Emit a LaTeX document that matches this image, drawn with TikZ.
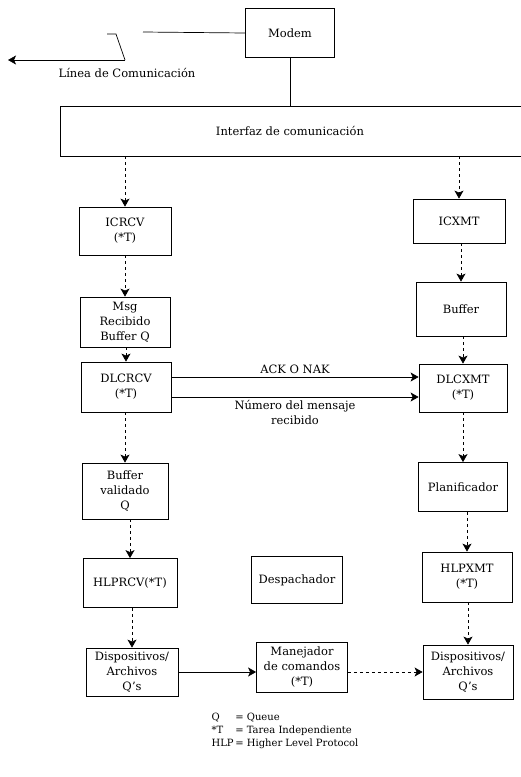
\documentclass[tikz,border=0pt]{standalone}
\usepackage{fontspec}
\setmainfont{DejaVu Serif}
\usepackage{tikz}
\usetikzlibrary{arrows.meta}
\tikzset{
  tareabox/.style={draw=black,line width=0.8pt,align=center,inner sep=2pt},
  punta/.tip={Stealth[length=8pt,width=9pt,inset=2pt,fill=black,line width=0.6pt,line join=miter]},
  flechav/.style={-punta,dashed,line width=0.5pt},
  flechah/.style={-punta,line width=0.7pt},
  leyenda/.style={align=left,font=\fontsize{10}{13}\selectfont},
  every picture/.style={font=\fontsize{11.5}{15}\selectfont}
}

\begin{document}
\begin{tikzpicture}[x=1pt,y=-1pt]
  \useasboundingbox (0,0) rectangle (521,777);
  % modem y linea
  \node[tareabox,minimum width=89pt,minimum height=49pt] (modem) at (290,33) {Modem};
  \coordinate (lin1) at (143,32);
  \coordinate (rayo) at (125,60);
  \coordinate (linfin) at (8,60);
  \draw[line width=0.7pt] (modem.west) -- (lin1);
  \draw[line width=0.7pt] (107,34) -- (116,34) -- (rayo);
  \draw[flechah] (rayo) -- (linfin);
  \node (linea) at (127,73) {Línea de Comunicación};
  % interfaz
  \draw[line width=0.8pt] (521,106) -- (60,106) -- (60,156) -- (521,156);
  \node (interfaz) at (290,131) {Interfaz de comunicación};
  \coordinate (ifsup) at (290,106);
  \coordinate (ifrcv) at (125,156);
  \coordinate (ifxmt) at (459,156);
  \draw[line width=0.8pt] (modem.south) -- (ifsup);

  % columna de recepcion
  \node[tareabox,minimum width=92pt,minimum height=48pt] (icrcv) at (125,231) {ICRCV\\(*T)};
  \node[tareabox,minimum width=90pt,minimum height=50pt] (msgrec) at (125,322) {Msg\\Recibido\\Buffer Q};
  \node[tareabox,minimum width=90pt,minimum height=50pt] (dlcrcv) at (126,387) {DLCRCV\\(*T)};
  \node[tareabox,minimum width=86pt,minimum height=56pt] (bufval) at (125,491) {Buffer\\validado\\Q};
  \node[tareabox,minimum width=94pt,minimum height=49pt] (hlprcv) at (130,583) {HLPRCV(*T)};
  \node[tareabox,minimum width=92pt,minimum height=48pt] (displ) at (132,672) {Dispositivos/\\Archivos\\Q's};

  % columna de transmision
  \node[tareabox,minimum width=92pt,minimum height=44pt] (icxmt) at (459,221) {ICXMT};
  \node[tareabox,minimum width=90pt,minimum height=54pt] (buffer) at (461,309) {Buffer};
  \node[tareabox,minimum width=88pt,minimum height=48pt] (dlcxmt) at (463,388) {DLCXMT\\(*T)};
  \node[tareabox,minimum width=89pt,minimum height=49pt] (planif) at (463,487) {Planificador};
  \node[tareabox,minimum width=90pt,minimum height=50pt] (hlpxmt) at (467,577) {HLPXMT\\(*T)};
  \node[tareabox,minimum width=90pt,minimum height=54pt] (dispr) at (468,672) {Dispositivos/\\Archivos\\Q's};

  % centro
  \node[tareabox,minimum width=91pt,minimum height=47pt] (desp) at (297,580) {Despachador};
  \node[tareabox,minimum width=91pt,minimum height=50pt] (manej) at (302,667) {Manejador\\de comandos\\(*T)};

  \draw[flechav] (ifrcv) -- (icrcv.north);
  \draw[flechav] (ifxmt) -- (icxmt.north);
  \foreach \a/\b in {icrcv/msgrec,msgrec/dlcrcv,dlcrcv/bufval,bufval/hlprcv,hlprcv/displ,
                     icxmt/buffer,buffer/dlcxmt,dlcxmt/planif,planif/hlpxmt,hlpxmt/dispr}
    \draw[flechav] (\b.north |- \a.south) -- (\b.north);

  \draw[flechah] ([yshift=10pt]dlcrcv.east) -- ([yshift=10pt]dlcrcv.east -| dlcxmt.west)
    node[midway,above] (ack) {ACK O NAK};
  \draw[flechah] ([yshift=-10pt]dlcrcv.east) -- ([yshift=-10pt]dlcrcv.east -| dlcxmt.west)
    node[midway,below,align=center] (numero) {Número del mensaje\\recibido};
  \draw[flechah] (displ.east) -- (manej.west |- displ.east);
  \draw[flechah,dashed] (manej.east |- dispr.west) -- (dispr.west);

  \node[leyenda,anchor=north west] (ley) at (208,708) {%
    \begin{tabular}{@{}l@{\,}l@{}}
      Q & = Queue\\
      {*}T & = Tarea Independiente\\
      HLP& = Higher Level Protocol
    \end{tabular}};
\end{tikzpicture}
\end{document}
